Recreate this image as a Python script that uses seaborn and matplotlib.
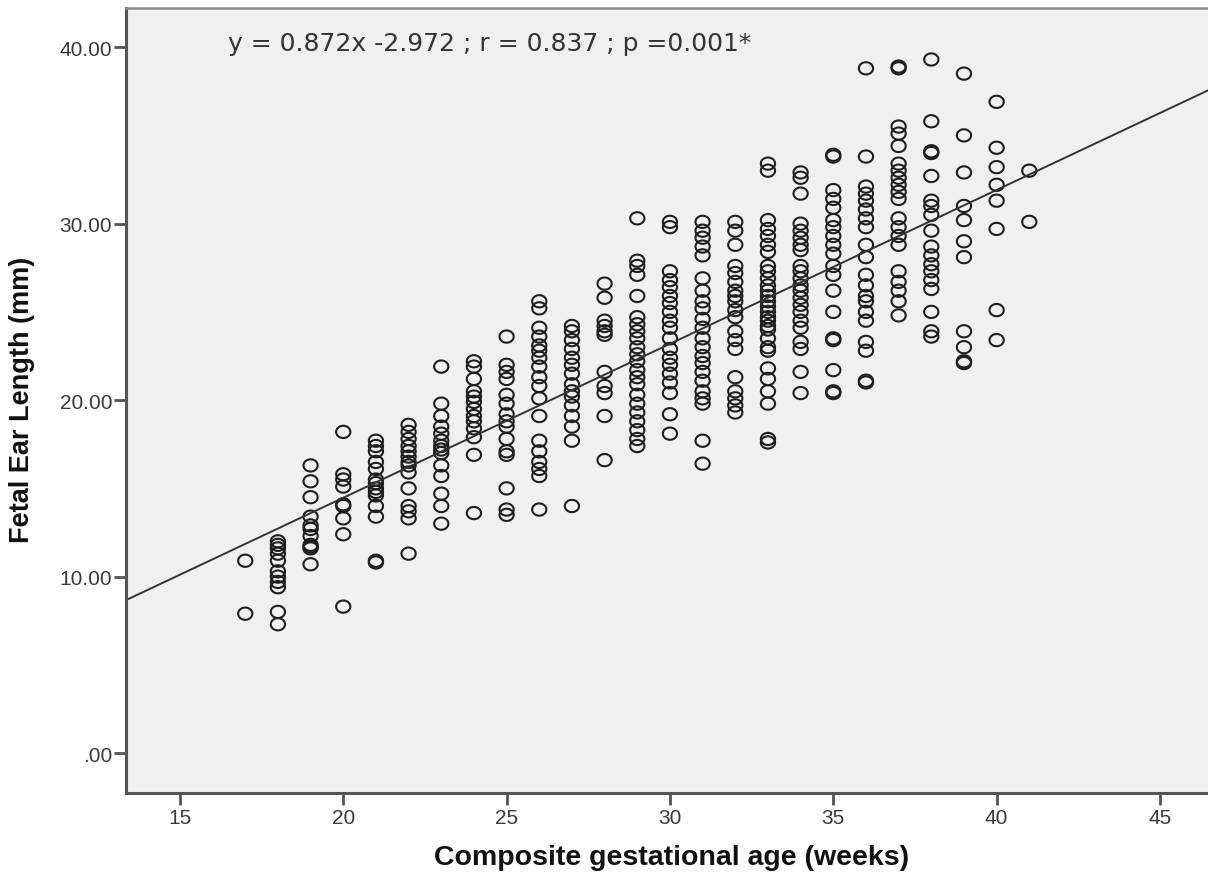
import numpy as np
import pandas as pd
import matplotlib
matplotlib.use("Agg")
import matplotlib.pyplot as plt
from matplotlib.path import Path
import seaborn as sns

# fetal ear length (mm) per completed gestational week
w17 = [10.9, 7.9]
w18 = [12.0, 11.8, 11.6, 11.3, 10.9, 10.3, 10.0, 9.7, 9.4, 8.0, 7.3]
w19 = [16.3, 15.4, 14.5, 13.4, 12.9, 12.7, 12.3, 11.8, 11.7, 11.6, 10.7]
w20 = [18.2, 15.8, 15.5, 15.1, 14.1, 14.0, 13.3, 12.4, 8.3]
w21 = [17.7, 17.4, 17.1, 16.5, 16.1, 15.5, 15.3, 15.0, 14.8, 14.6, 14.0, 13.4, 10.9, 10.8]
w22 = [18.6, 18.2, 17.8, 17.4, 17.1, 16.8, 16.5, 16.3, 15.9, 15.0, 14.0, 13.7, 13.3, 11.3]
w23 = [21.9, 19.8, 19.1, 18.5, 18.1, 17.7, 17.4, 17.2, 17.0, 16.3, 15.7, 14.7, 14.0, 13.0]
w24 = [22.2, 21.9, 21.2, 20.5, 20.2, 19.9, 19.5, 19.1, 18.8, 18.4, 17.9, 16.9, 13.6]
w25 = [23.6, 22.0, 21.6, 21.2, 20.3, 19.8, 19.2, 18.8, 18.5, 17.8, 17.1, 16.9, 15.0, 13.8, 13.5]
w26 = [25.6, 25.2, 24.1, 23.6, 23.1, 22.8, 22.4, 21.9, 21.3, 20.8, 20.1, 19.1, 17.7, 17.1,
       16.5, 16.1, 15.7, 13.8]
w27 = [24.2, 23.9, 23.4, 22.9, 22.4, 22.0, 21.5, 20.9, 20.5, 20.2, 19.7, 19.1, 18.5, 17.7, 14.0]
w28 = [26.6, 25.8, 24.5, 24.2, 23.9, 23.7, 21.6, 20.8, 20.4, 19.1, 16.6]
w29 = [30.3, 27.9, 27.6, 27.1, 25.9, 24.7, 24.3, 23.9, 23.5, 23.0, 22.6, 22.2, 21.7, 21.3,
       20.9, 20.3, 19.8, 19.3, 18.8, 18.3, 17.8, 17.4]
w30 = [30.1, 29.8, 27.3, 26.8, 26.4, 25.9, 25.5, 25.0, 24.5, 24.1, 23.5, 22.9, 22.4, 22.0,
       21.5, 21.0, 20.4, 19.2, 18.1]
w31 = [30.1, 29.6, 29.2, 28.7, 28.2, 26.9, 26.2, 25.6, 25.2, 24.6, 24.1, 23.5, 23.0, 22.5,
       22.1, 21.6, 21.1, 20.5, 20.1, 19.8, 17.7, 16.4]
w32 = [30.1, 29.6, 28.8, 27.6, 27.2, 26.7, 26.2, 25.9, 25.6, 25.1, 24.7, 23.9, 23.4, 22.9,
       21.3, 20.5, 20.1, 19.7, 19.3]
w33 = [33.4, 33.0, 30.2, 29.7, 29.3, 28.8, 28.4, 27.6, 27.3, 26.9, 26.5, 26.2, 25.9, 25.6,
       25.3, 25.0, 24.7, 24.5, 24.2, 24.0, 23.5, 23.0, 22.8, 21.8, 21.2, 20.5, 19.8, 17.8, 17.6]
w34 = [32.9, 32.6, 31.7, 30.0, 29.6, 29.2, 28.8, 28.5, 27.6, 27.3, 26.9, 26.5, 26.2, 25.8,
       25.4, 25.0, 24.5, 24.1, 23.3, 22.9, 21.6, 20.4]
w35 = [33.9, 33.8, 31.9, 31.4, 30.9, 30.2, 29.8, 29.3, 28.8, 28.3, 27.6, 27.1, 26.2, 25.0,
       23.5, 23.4, 21.7, 20.5, 20.4]
w36 = [38.8, 33.8, 32.1, 31.7, 31.3, 30.8, 30.3, 29.8, 28.8, 28.1, 27.1, 26.5, 25.9, 25.6,
       25.0, 24.5, 23.3, 22.8, 21.1, 21.0]
w37 = [38.9, 38.8, 35.5, 35.1, 34.4, 33.4, 33.0, 32.6, 32.2, 31.8, 31.4, 30.3, 29.8, 29.3,
       28.8, 27.3, 26.7, 26.2, 25.6, 24.8]
w38 = [39.3, 35.8, 34.1, 34.0, 32.7, 31.3, 31.0, 30.5, 29.6, 28.7, 28.2, 27.7, 27.3, 26.8,
       26.3, 25.0, 23.9, 23.6]
w39 = [38.5, 35.0, 32.9, 31.0, 30.2, 29.0, 28.1, 23.9, 23.0, 22.2, 22.1]
w40 = [36.9, 34.3, 33.2, 32.2, 31.3, 29.7, 25.1, 23.4]
w41 = [33.0, 30.1]

weeks = list(range(17, 42))
columns = [w17, w18, w19, w20, w21, w22, w23, w24, w25, w26, w27, w28, w29,
           w30, w31, w32, w33, w34, w35, w36, w37, w38, w39, w40, w41]

# fit line as printed on the chart
slope = 0.872
intercept = -2.972
equation = "y = 0.872x -2.972 ; r = 0.837 ; p =0.001*"

x_ticks = [15, 20, 25, 30, 35, 40, 45]
y_ticks = [0, 10, 20, 30, 40]
y_tick_labels = [".00", "10.00", "20.00", "30.00", "40.00"]

df = pd.DataFrame({
    "age": np.concatenate([[w] * len(c) for w, c in zip(weeks, columns)]),
    "ear": np.concatenate(columns),
})

sns.set_style("white")
plt.rcParams["font.family"] = ["Liberation Sans", "DejaVu Sans"]

fig = plt.figure(figsize=(12.08, 8.79), dpi=100)
ax = fig.add_axes([126 / 1208, 1 - 794 / 879, 1 - 126 / 1208, (794 - 9.3) / 879])
ax.set_facecolor("#f0f0f0")

# slightly flattened open circle, like the SPSS marker
t = np.linspace(0, 2 * np.pi, 60)
ellipse = Path(np.column_stack([0.5 * np.cos(t), 0.43 * np.sin(t)]), closed=True)

sns.scatterplot(data=df, x="age", y="ear", ax=ax, marker=ellipse, s=105,
                facecolor="none", edgecolor="#1e1e1e", linewidth=1.5)

xlim = (13.35, 46.47)
xs = np.array(xlim)
ax.plot(xs, slope * xs + intercept, color="#333333", lw=1.4)

ax.set_xlim(*xlim)
ax.set_ylim(-2.26, 42.2)
ax.set_xticks(x_ticks)
ax.set_yticks(y_ticks)
ax.set_yticklabels(y_tick_labels)

for side in ["left", "bottom"]:
    ax.spines[side].set_color("#555555")
    ax.spines[side].set_linewidth(2.2)
ax.spines["top"].set_color("#8a8a8a")
ax.spines["top"].set_linewidth(1.8)
ax.spines["right"].set_visible(False)

ax.tick_params(axis="both", direction="out", length=8.5, width=2, color="#555555",
               labelsize=15, labelcolor="#3a3a3a")
ax.tick_params(axis="y", pad=1.5, left=True)
ax.tick_params(axis="x", pad=2.5, bottom=True)

ax.set_xlabel("Composite gestational age (weeks)", fontsize=20.5, fontweight="bold",
              color="#111111", va="center")
ax.xaxis.set_label_coords(0.504, -0.0815)
ax.set_ylabel("Fetal Ear Length (mm)", fontsize=19.5, fontweight="bold",
              color="#111111", va="center")
ax.yaxis.set_label_coords(-0.096, 0.502)

fig.text(228 / 1208, 1 - 44 / 879, equation, family="DejaVu Sans", fontsize=18,
         color="#333333", va="center", ha="left")

fig.savefig("out.png", dpi=100)
